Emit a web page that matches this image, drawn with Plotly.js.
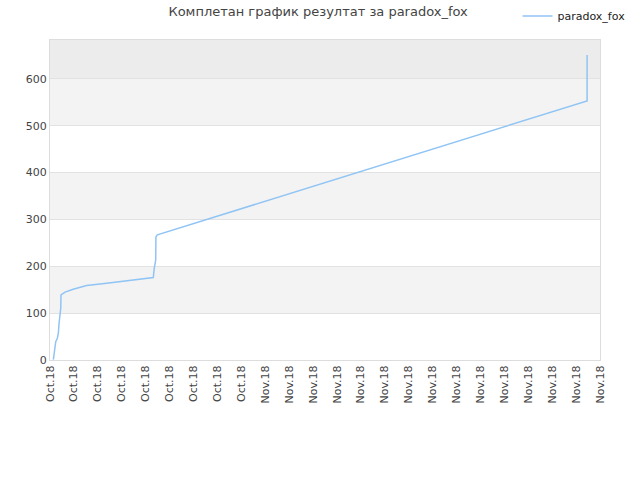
<!DOCTYPE html>
<html>
<head>
<meta charset="utf-8">
<script src="https://cdn.plot.ly/plotly-3.0.1.min.js"></script>
<style>body{margin:0;background:#fff}#chart{width:640px;height:480px}</style>
</head>
<body>
<div id="chart"></div>
<script>
// time in tick steps, score
var timeSteps = [0.14, 0.17, 0.24, 0.31, 0.35, 0.38, 0.42, 0.45, 0.46, 0.63, 0.97, 1.33, 1.53, 2.37, 3.21, 4.25, 4.32, 4.36, 4.42, 4.43, 4.49, 22.46, 22.46];
var scores = [1, 15, 39, 47, 58, 79, 96, 111, 139, 145, 151, 156, 159, 164, 169, 174, 176, 196, 213, 263, 267, 553, 651];

var tickPos = [];
var tickLabels = [];
for (var i = 0; i < 24; i++) {
  tickPos.push(i);
  tickLabels.push(i < 9 ? 'Oct.18' : 'Nov.18');
}

var bands = [[100, 200, '#f3f3f3'], [300, 400, '#f3f3f3'], [500, 600, '#f3f3f3'], [600, 683, '#ececec']];
var shapes = bands.map(function (b) {
  return {type: 'rect', xref: 'paper', yref: 'y', x0: 0, x1: 1, y0: b[0], y1: b[1],
    fillcolor: b[2], line: {width: 0}, layer: 'below'};
});

var trace = {
  x: timeSteps,
  y: scores,
  mode: 'lines',
  type: 'scatter',
  name: 'paradox_fox',
  line: {color: '#90c4f4', width: 1.5}
};

var layout = {
  width: 640, height: 480,
  margin: {l: 50, r: 40, t: 40, b: 120, autoexpand: false},
  paper_bgcolor: '#fff', plot_bgcolor: '#fff',
  font: {family: 'DejaVu Sans, sans-serif', size: 11, color: '#444'},
  title: {text: 'Комплетан график резултат за paradox_fox', x: 0.497, y: 0.985, font: {size: 13, color: '#444'}},
  showlegend: true,
  legend: {x: 0.85, y: 1.075, xanchor: 'left', yanchor: 'middle', itemwidth: 30,
    font: {size: 11, color: '#222'}, bgcolor: 'rgba(0,0,0,0)'},
  xaxis: {range: [0, 23], tickvals: tickPos, ticktext: tickLabels, tickangle: -90,
    showgrid: false, zeroline: false, showline: true, linecolor: '#ddd', mirror: true, ticks: '', ticklen: 0},
  yaxis: {range: [0, 683], tickvals: [0, 100, 200, 300, 400, 500, 600], showgrid: true, gridcolor: '#e2e2e2',
    zeroline: false, showline: true, linecolor: '#ddd', mirror: true, ticks: ''},
  shapes: shapes
};

Plotly.newPlot('chart', [trace], layout, {displayModeBar: false});
</script>
</body>
</html>
